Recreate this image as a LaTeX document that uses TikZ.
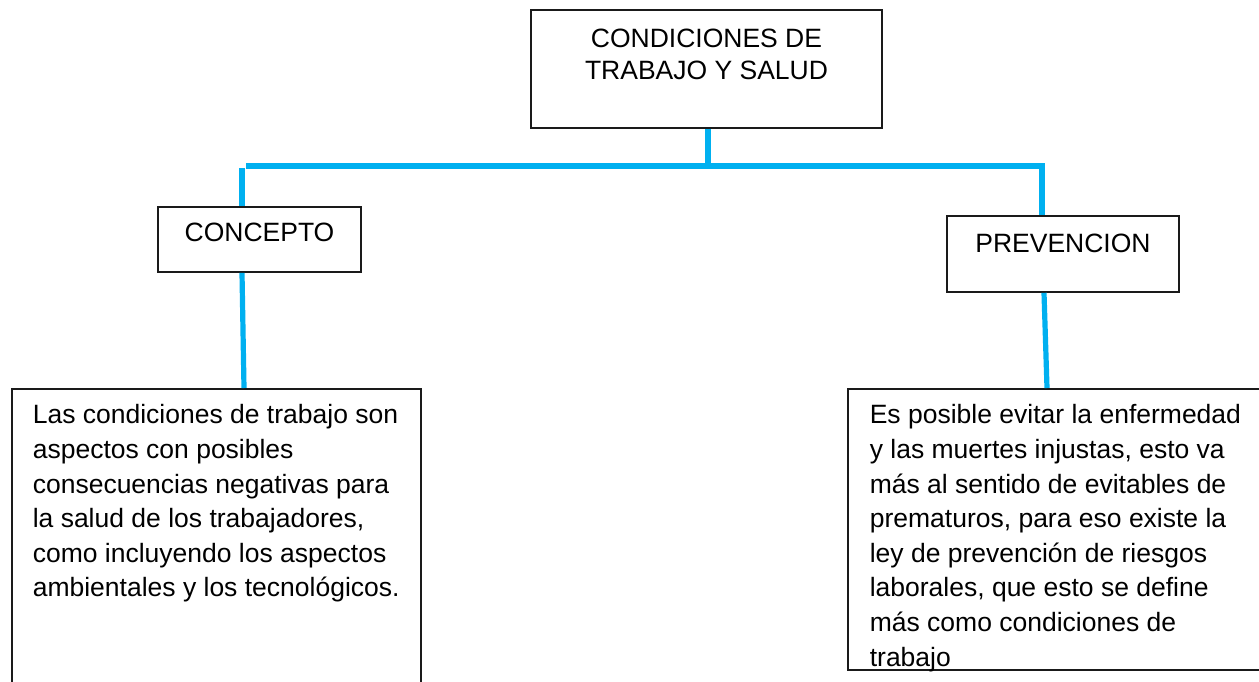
\documentclass[tikz,border=0pt]{standalone}
\usepackage{fontspec}
\setmainfont{Liberation Sans}
\definecolor{linkblue}{HTML}{00B0F0}
\definecolor{boxline}{HTML}{1A1A1A}
\tikzset{
  box/.style={draw=boxline, line width=1.6pt, inner sep=0pt, font=\fontsize{26.5}{34.6}\selectfont},
  conn/.style={draw=linkblue, line width=5.2pt},
}
\begin{document}
\begin{tikzpicture}[x=1pt,y=-1pt]
\useasboundingbox (0,0) rectangle (1259,681);
% boxes
\node[box] (top) at (706.5,69) {\parbox[c][118pt][t]{351pt}{\fontsize{26.5}{32}\selectfont\centering\rule{0pt}{37pt}CONDICIONES DE\\TRABAJO Y SALUD}};
\node[box] (concepto) at (259.5,239.5) {\parbox[c][65pt][t]{203pt}{\centering\rule{0pt}{34pt}CONCEPTO}};
\node[box] (prev) at (1063,254) {\parbox[c][76pt][t]{232pt}{\centering\rule{0pt}{36pt}PREVENCION}};
\node[box, anchor=north west] (leftbox) at (11,388) {\parbox[t][330pt][t]{409pt}{\raggedright\leftskip=21pt\rule{0pt}{35pt}Las condiciones de trabajo son\\aspectos con posibles\\consecuencias negativas para\\la salud de los trabajadores,\\como incluyendo los aspectos\\ambientales y los tecnológicos.}};
\node[box, anchor=north west] (rightbox) at (847,388) {\parbox[t][281pt][t]{430pt}{\raggedright\leftskip=22pt\rule{0pt}{35pt}Es posible evitar la enfermedad\\y las muertes injustas, esto va\\más al sentido de evitables de\\prematuros, para eso existe la\\ley de prevención de riesgos\\laborales, que esto se define\\más como condiciones de\\trabajo}};
% junction coordinates
\coordinate (j) at (708,166);
\coordinate (hl) at (246,166);
\coordinate (hr) at (1042,166);
\coordinate (cl) at (242,168);
\coordinate (lb) at (244,0);
\coordinate (rt) at (1044,0);
\coordinate (rb) at (1047,0);
% connectors
\draw[conn] (top.south -| j) -- (j);
\draw[conn, line join=miter] (hl) -- (hr) -- (hr |- prev.north);
\draw[conn] (cl) -- (cl |- concepto.north);
\draw[conn] (concepto.south -| cl) -- (lb |- leftbox.north);
\draw[conn] (prev.south -| rt) -- (rb |- rightbox.north);
\end{tikzpicture}
\end{document}
